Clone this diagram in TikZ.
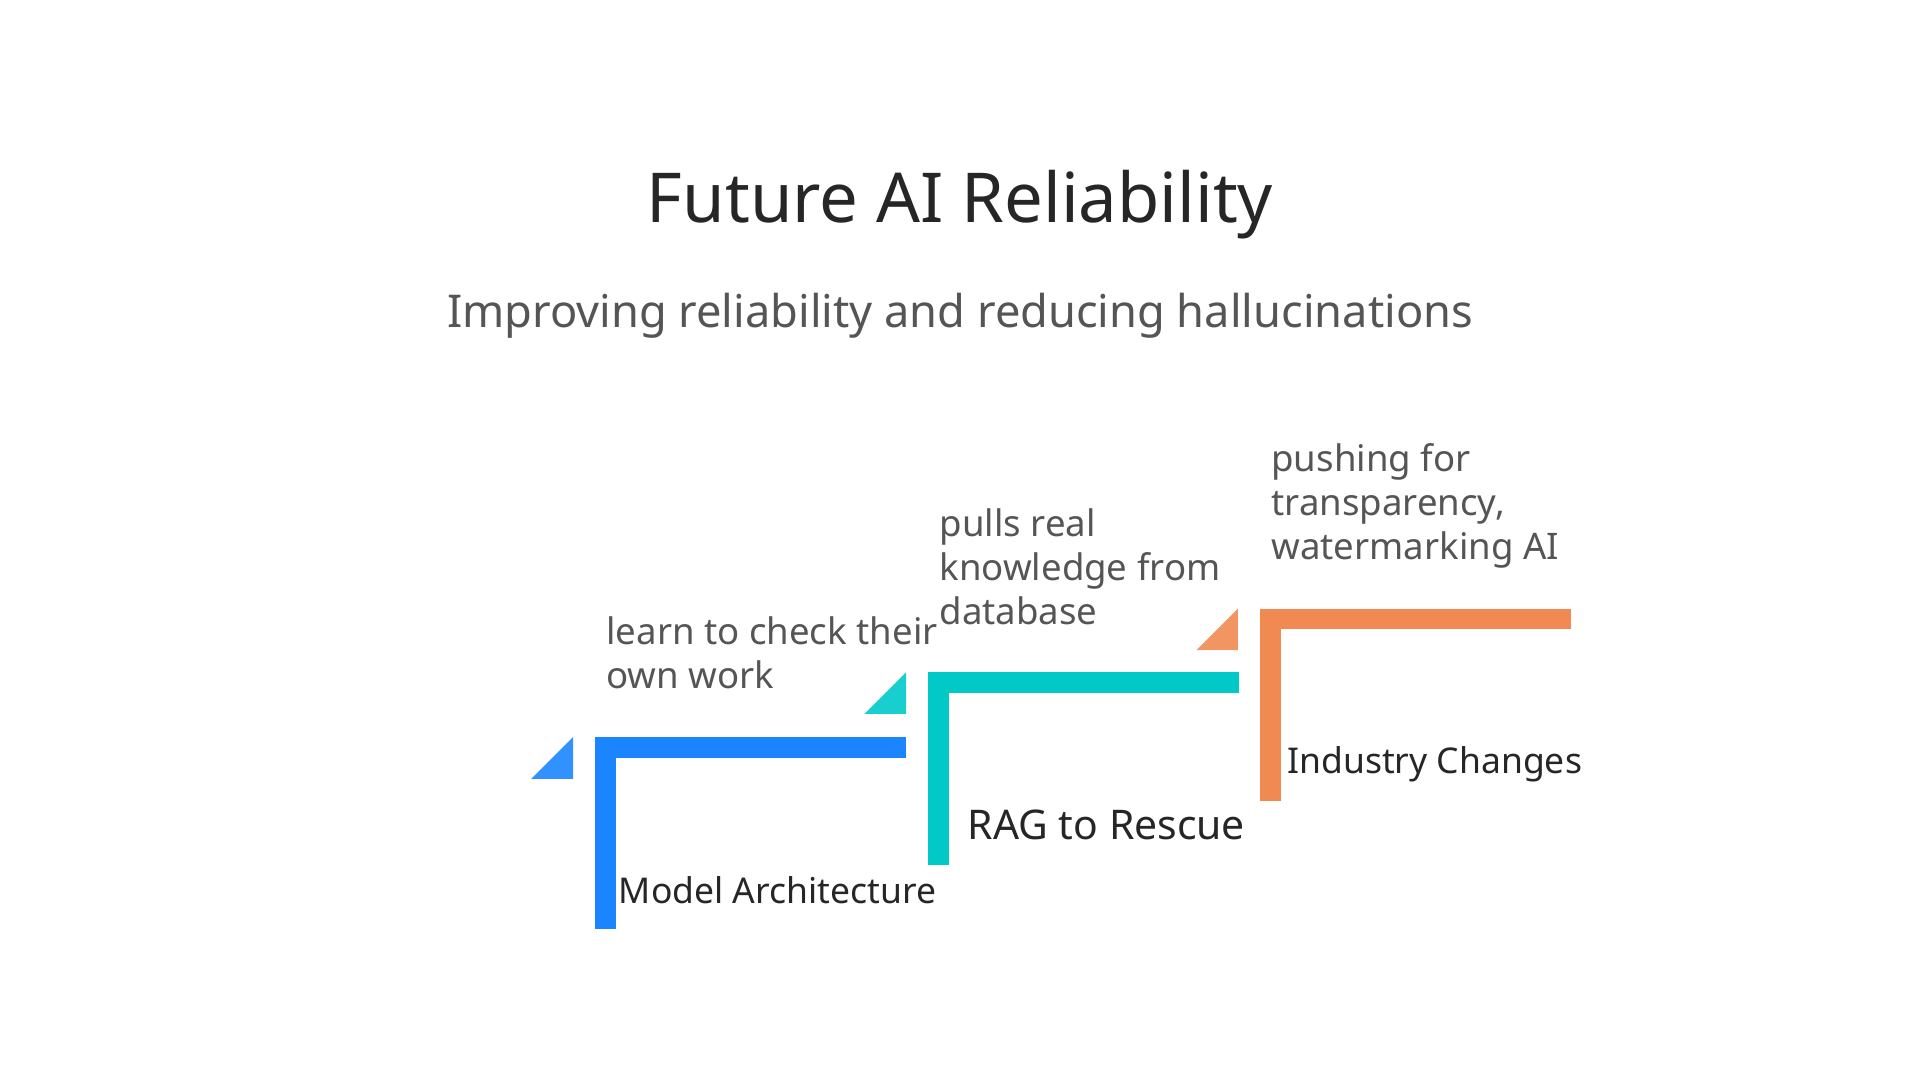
\documentclass[tikz,border=0pt]{standalone}
\usepackage{fontspec}
\setmainfont{Noto Sans}
\usetikzlibrary{positioning}
\definecolor{stepblue}{HTML}{1A85FF}
\definecolor{stepteal}{HTML}{00C9C8}
\definecolor{steporange}{HTML}{F08A52}
\definecolor{txtgray}{HTML}{555555}
\tikzset{
  note/.style={anchor=north west, align=left, text=txtgray, font=\fontsize{17}{20.5}\selectfont, inner sep=0pt},
  label/.style={anchor=west, font=\bfseries\fontsize{16.5}{20}\selectfont, text=black!85, inner sep=0pt},
}

\begin{document}
\begin{tikzpicture}[x=0.02cm, y=-0.02cm]
            \useasboundingbox (0,0) rectangle (1568,882);
            % Title and subtitle
            \node (title) at (784,167) {\fontsize{32}{36}\selectfont\color{black!85}Future AI Reliability};
            \node (subtitle) at (784,258) {\fontsize{21}{25}\selectfont\color{txtgray}Improving reliability and reducing hallucinations};

            % Three steps: corner bar with small triangle in front
            \foreach \x/\y/\c in {486/602/stepblue, 758/549/stepteal, 1029/497/steporange}{
                \fill[\c] (\x,\y) rectangle (\x+254,\y+17);
                \fill[\c] (\x,\y) rectangle (\x+17,\y+157);
                \fill[\c!90] (\x-52,\y+34) -- (\x-18,\y+34) -- (\x-18,\y) -- cycle;
            }

            % Descriptions above the bars
            \node[note] (archnote) at (495,503) {learn to check their\\own work};
            \node[note] (ragnote) at (767,415) {pulls real\\knowledge from\\database};
            \node[note] (indnote) at (1038,362) {pushing for\\transparency,\\watermarking AI};

            % Step names
            \node[label] (arch) at (505,727) {Model Architecture};
            \node[label] (rag) at (790,674) {\fontsize{19}{22}\selectfont RAG to Rescue};
            \node[label] (ind) at (1051,624) {Industry Changes};
        \end{tikzpicture}
\end{document}
